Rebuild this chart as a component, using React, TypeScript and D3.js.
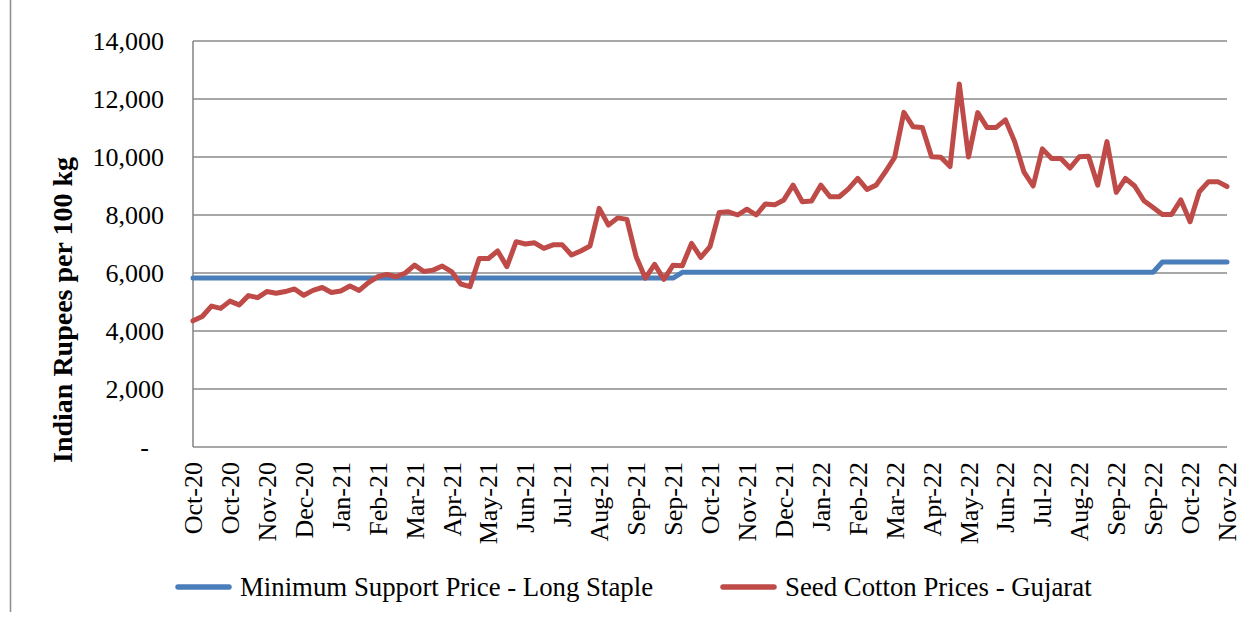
import React, { useEffect, useRef } from 'react'
import * as d3 from 'd3'

// weekly observations, Oct-20 .. Nov-22
const tickLabels = [
  'Oct-20', 'Oct-20', 'Nov-20', 'Dec-20', 'Jan-21', 'Feb-21', 'Mar-21', 'Apr-21',
  'May-21', 'Jun-21', 'Jul-21', 'Aug-21', 'Sep-21', 'Sep-21', 'Oct-21', 'Nov-21',
  'Dec-21', 'Jan-22', 'Feb-22', 'Mar-22', 'Apr-22', 'May-22', 'Jun-22', 'Jul-22',
  'Aug-22', 'Sep-22', 'Sep-22', 'Oct-22', 'Nov-22',
]

const seedCotton = [
  4350, 4500, 4860, 4780, 5030, 4900, 5220, 5150, 5360, 5300,
  5360, 5450, 5230, 5400, 5500, 5330, 5380, 5550, 5400, 5670,
  5870, 5950, 5870, 6000, 6270, 6050, 6100, 6240, 6050, 5620,
  5530, 6500, 6500, 6760, 6220, 7080, 7000, 7040, 6850, 6970,
  6970, 6620, 6760, 6930, 8230, 7650, 7900, 7850, 6560, 5820,
  6300, 5780, 6270, 6250, 7020, 6540, 6910, 8090, 8110, 8000,
  8200, 8000, 8380, 8350, 8520, 9030, 8460, 8480, 9030, 8630,
  8630, 8900, 9260, 8880, 9030, 9490, 9990, 11540, 11040, 11020,
  10010, 9990, 9670, 12520, 10000, 11530, 11020, 11020, 11280, 10530,
  9490, 9000, 10280, 9950, 9950, 9620, 10010, 10030, 9030, 10530,
  8780, 9260, 9000, 8490, 8260, 8020, 8020, 8520, 7770, 8800,
  9150, 9150, 8980,
]

const msp = [
  ...Array(53).fill(5825),
  ...Array(52).fill(6025),
  ...Array(8).fill(6380),
]

const yTicks = [0, 2000, 4000, 6000, 8000, 10000, 12000, 14000]

const BLUE = '#4a7ebb'
const RED = '#be4b48'
const FONT = '"Liberation Serif", "Times New Roman", serif'

export default function App() {
  const svgRef = useRef<SVGSVGElement>(null)

  useEffect(() => {
    if (!svgRef.current) return
    const svg = d3.select(svgRef.current)
    svg.selectAll('*').remove()

    const left = 193, right = 1227, top = 41, bottom = 447

    const x = d3.scaleLinear().domain([0, seedCotton.length - 1]).range([left, right])
    const y = d3.scaleLinear().domain([0, 14000]).range([bottom, top])

    // outer chart border
    svg.append('line')
      .attr('x1', 10.5).attr('x2', 10.5)
      .attr('y1', 0).attr('y2', 612)
      .attr('stroke', '#8c8c8c').attr('stroke-width', 1.5)

    // grid lines
    svg.append('g')
      .selectAll('line')
      .data(yTicks)
      .join('line')
      .attr('x1', left).attr('x2', right)
      .attr('y1', d => y(d)).attr('y2', d => y(d))
      .attr('stroke', '#8a8a8a').attr('stroke-width', 1.6)

    // y axis line
    svg.append('line')
      .attr('x1', left).attr('x2', left)
      .attr('y1', top).attr('y2', bottom)
      .attr('stroke', '#8a8a8a').attr('stroke-width', 1.6)

    // y tick labels
    svg.append('g')
      .selectAll('text')
      .data(yTicks)
      .join('text')
      .attr('x', d => d === 0 ? 149 : 164)
      .attr('y', d => y(d))
      .attr('dy', '0.35em')
      .attr('text-anchor', 'end')
      .style('font-family', FONT)
      .style('font-size', '26px')
      .text(d => d === 0 ? '-' : d3.format(',')(d))

    // y axis title
    svg.append('text')
      .attr('transform', `translate(72,310) rotate(-90)`)
      .attr('text-anchor', 'middle')
      .style('font-family', FONT)
      .style('font-size', '28px')
      .style('font-weight', 'bold')
      .text('Indian Rupees per 100 kg')

    // x tick labels, every fourth week
    svg.append('g')
      .selectAll('text')
      .data(tickLabels)
      .join('text')
      .attr('transform', (_, i) => `translate(${x(i * 4) + 9},462) rotate(-90)`)
      .attr('text-anchor', 'end')
      .style('font-family', FONT)
      .style('font-size', '26px')
      .text(d => d)

    const line = d3.line<number>()
      .x((_, i) => x(i))
      .y(d => y(d))

    svg.append('path')
      .datum(msp)
      .attr('fill', 'none')
      .attr('stroke', BLUE)
      .attr('stroke-width', 5)
      .attr('stroke-linecap', 'round')
      .attr('stroke-linejoin', 'round')
      .attr('d', line)

    svg.append('path')
      .datum(seedCotton)
      .attr('fill', 'none')
      .attr('stroke', RED)
      .attr('stroke-width', 5)
      .attr('stroke-linecap', 'round')
      .attr('stroke-linejoin', 'round')
      .attr('d', line)

    // legend
    const legend = [
      { label: 'Minimum Support Price - Long Staple', color: BLUE, x: 178 },
      { label: 'Seed Cotton Prices - Gujarat', color: RED, x: 723 },
    ]
    const lg = svg.append('g')
    legend.forEach(item => {
      lg.append('line')
        .attr('x1', item.x).attr('x2', item.x + 51)
        .attr('y1', 587).attr('y2', 587)
        .attr('stroke', item.color).attr('stroke-width', 5.5)
        .attr('stroke-linecap', 'round')
      lg.append('text')
        .attr('x', item.x + 62)
        .attr('y', 587)
        .attr('dy', '0.35em')
        .style('font-family', FONT)
        .style('font-size', '26.8px')
        .text(item.label)
    })
  }, [])

  return (
    <svg
      ref={svgRef}
      width={1245}
      height={619}
      style={{ position: 'absolute', left: 0, top: 0, background: '#fff' }}
    />
  )
}
